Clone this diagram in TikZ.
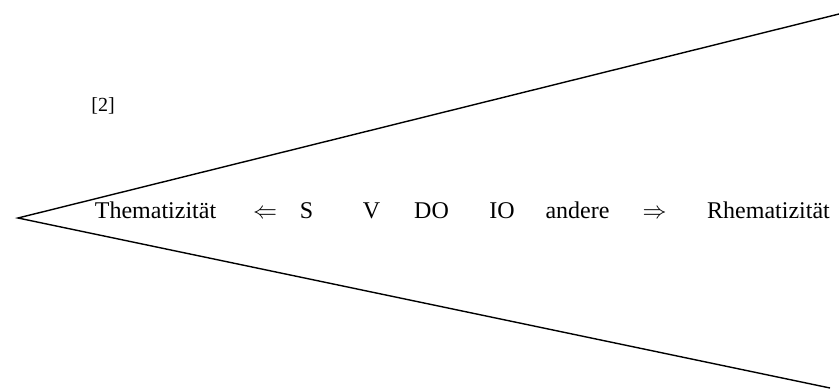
\documentclass[tikz,border=0pt]{standalone}
\usepackage{fontspec}
\setmainfont{Liberation Serif}
\begin{document}
\begin{tikzpicture}[
    x=0.5pt, y=-0.5pt,
    word/.style={anchor=base, inner sep=0pt, font=\fontsize{12}{14}\selectfont},
    tag/.style={anchor=base, inner sep=0pt, font=\fontsize{10}{12}\selectfont},
    wedge/.style={line width=0.7pt, line join=miter}
]
    \useasboundingbox (0,0) rectangle (839,389);

    % Label
    \node[tag] (num) at (103,112) {[2]};

    % Wedge
    \coordinate (apex) at (18,218);
    \coordinate (top) at (839,14);
    \coordinate (bottom) at (830,388);
    \draw[wedge] (top) -- (apex) -- (bottom);

    % Order of constituents
    \node[word] (theme) at (155.5,219) {Thematizität};
    \node[word] (left) at (265,219) {$\Leftarrow$};
    \node[word] (subj) at (306.5,219) {S};
    \node[word] (verb) at (371.5,219) {V};
    \node[word] (dobj) at (431.5,219) {DO};
    \node[word] (iobj) at (502,219) {IO};
    \node[word] (other) at (577.5,219) {andere};
    \node[word] (right) at (654.5,219) {$\Rightarrow$};
    \node[word] (rheme) at (768.5,219) {Rhematizität};
\end{tikzpicture}
\end{document}
